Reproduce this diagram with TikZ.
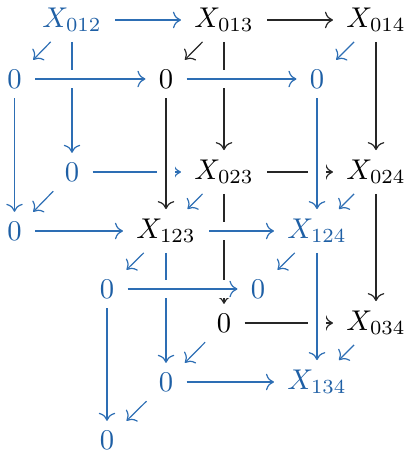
\documentclass[tikz,border=0pt]{standalone}
\usetikzlibrary{arrows.meta}
\definecolor{cdblue}{RGB}{30,95,165}
\definecolor{cdline}{RGB}{45,110,180}
\begin{document}
\begin{tikzpicture}[x=0.35pt,y=-0.35pt,
  every node/.style={inner xsep=4.5pt, inner ysep=3.3pt},
  bobj/.style={text=cdblue},
  tip/.style={-{Computer Modern Rightarrow[width=5.8pt,length=2.8pt]}},
  kar/.style={tip, line width=0.42pt, draw=black!85},
  bar/.style={tip, line width=0.42pt, draw=cdline},
  over/.style={preaction={draw=white, -, line width=6.5pt}}]
\useasboundingbox (0,0) rectangle (406,451);
% back layer
\node[bobj] (a012) at (72,20) {$X_{012}$};
\node (a013) at (224,20) {$X_{013}$};
\node (a014) at (376,20) {$X_{014}$};
\node[bobj] (c0) at (72,172) {$0$};
\node (a023) at (224,172) {$X_{023}$};
\node (a024) at (376,172) {$X_{024}$};
\node (f0) at (224,323) {$0$};
\node (a034) at (376,323) {$X_{034}$};
% middle layer
\node[bobj] (b0) at (14.5,79) {$0$};
\node (b1) at (166,79) {$0$};
\node[bobj] (b2) at (317,79) {$0$};
\node[bobj] (d0) at (14.5,231) {$0$};
\node (a123) at (166,231) {$X_{123}$};
\node[bobj] (a124) at (317,231) {$X_{124}$};
\node[bobj] (g0) at (166,382) {$0$};
\node[bobj] (a134) at (317,382) {$X_{134}$};
% front layer
\node[bobj] (e0) at (107,289) {$0$};
\node[bobj] (e1) at (258,289) {$0$};
\node[bobj] (h0) at (107,440) {$0$};
% arrows (under)
\draw[bar] (a012) -- (a013);
\draw[kar] (a013) -- (a014);
\draw[bar] (a012) -- (b0);
\draw[kar] (a013) -- (b1);
\draw[bar] (a014) -- (b2);
\draw[bar] (a012) -- (c0);
\draw[kar] (a013) -- (a023);
\draw[kar] (a014) -- (a024);
\draw[bar] (b0) -- (d0);
\draw[bar] (c0) -- (a023);
\draw[kar] (a023) -- (a024);
\draw[bar] (c0) -- (d0);
\draw[bar] (a023) -- (a123);
\draw[bar] (a024) -- (a124);
\draw[bar] (d0) -- (a123);
\draw[kar] (a023) -- (f0);
\draw[kar] (a024) -- (a034);
\draw[bar] (a123) -- (e0);
\draw[bar] (a124) -- (e1);
\draw[bar] (a123) -- (g0);
\draw[bar] (e0) -- (h0);
\draw[kar] (f0) -- (a034);
\draw[bar] (f0) -- (g0);
\draw[bar] (a034) -- (a134);
\draw[bar] (g0) -- (a134);
\draw[bar] (g0) -- (h0);
% arrows (crossing over)
\draw[bar, over] (b0) -- (b1);
\draw[bar, over] (b1) -- (b2);
\draw[kar, over] (b1) -- (a123);
\draw[bar, over] (b2) -- (a124);
\draw[bar, over] (a123) -- (a124);
\draw[bar, over] (e0) -- (e1);
\draw[bar, over] (a124) -- (a134);
\end{tikzpicture}
\end{document}
